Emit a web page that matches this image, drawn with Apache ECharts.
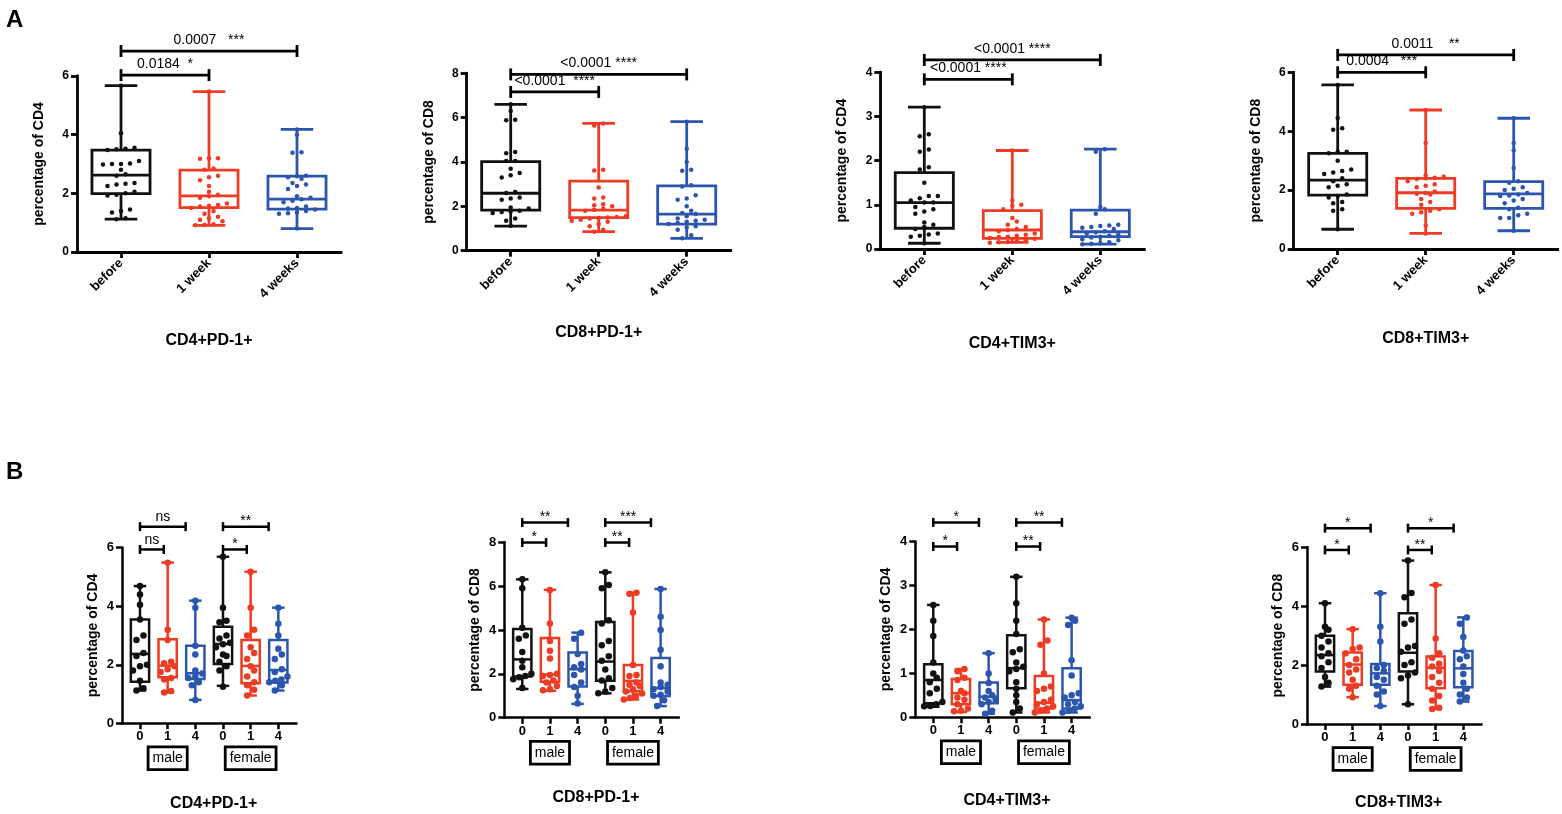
<!DOCTYPE html>
<html><head><meta charset="utf-8">
<script src="https://cdn.jsdelivr.net/npm/echarts@6/dist/echarts.min.js"></script>
<style>html,body{margin:0;padding:0;background:#fff}#c{width:1562px;height:814px}</style>
</head><body><div id="c"></div>
<script>
// ---------- data ----------
const catsA = ['before', '1 week', '4 weeks'];
const catsB = ['0', '1', '4', '0', '1', '4'];
const sexGroups = ['male', 'female'];
const titles = ['CD4+PD-1+', 'CD8+PD-1+', 'CD4+TIM3+', 'CD8+TIM3+'];
const yNames = ['percentage of CD4', 'percentage of CD8', 'percentage of CD4', 'percentage of CD8'];
const yMax = [6, 8, 4, 6];
const yStep = [2, 2, 1, 2];

// box stats: [min, Q1, median, Q3, max]
const boxA1 = [[1.12,1.99,2.62,3.47,5.67],[0.91,1.51,1.91,2.79,5.47],[0.80,1.46,1.80,2.59,4.18]];
const boxA2 = [[1.11,1.83,2.59,4.02,6.60],[0.86,1.49,1.83,3.14,5.74],[0.56,1.20,1.65,2.92,5.82]];
const boxA3 = [[0.13,0.47,1.05,1.73,3.21],[0.15,0.24,0.43,0.87,2.23],[0.11,0.28,0.39,0.88,2.26]];
const boxA4 = [[0.67,1.83,2.34,3.25,5.57],[0.53,1.38,1.91,2.40,4.72],[0.62,1.38,1.87,2.29,4.44]];

const boxB1 = [[1.12,1.42,2.37,3.55,4.69],[1.05,1.57,1.97,2.87,5.49],[0.80,1.51,1.71,2.65,4.19],[1.28,2.03,2.71,3.30,5.69],[0.95,1.37,1.96,2.85,5.18],[1.12,1.39,1.82,2.85,3.95]];
const boxB2 = [[1.31,1.88,2.66,4.05,6.31],[1.23,1.64,1.97,3.64,5.83],[0.63,1.42,2.21,2.97,3.88],[1.11,1.68,2.56,4.36,6.63],[0.83,1.21,1.68,2.40,5.70],[0.53,0.99,1.35,2.72,5.87]];
const boxB3 = [[0.24,0.32,0.85,1.21,2.56],[0.12,0.30,0.55,0.87,1.10],[0.08,0.32,0.47,0.79,1.46],[0.11,0.66,1.12,1.87,3.20],[0.11,0.20,0.33,0.94,2.23],[0.11,0.20,0.39,1.12,2.27]];
const boxB4 = [[1.27,1.78,2.34,3.00,4.10],[0.91,1.33,2.02,2.43,3.22],[0.61,1.33,1.72,2.04,4.44],[0.67,1.78,2.42,3.76,5.55],[0.51,1.21,1.91,2.29,4.72],[0.76,1.25,1.89,2.48,3.62]];

// individual points
const ptsA1 = [
  [5.67,4.05,3.55,3.52,3.50,3.48,3.10,3.02,3.00,3.00,2.98,2.80,2.65,2.60,2.35,2.33,2.30,2.25,2.05,2.00,1.95,1.93,1.45,1.40,1.35,1.15,1.12],
  [5.47,3.20,3.20,3.18,2.85,2.80,2.60,2.55,2.45,2.25,2.05,1.95,1.90,1.85,1.65,1.60,1.58,1.55,1.50,1.40,1.30,1.20,1.15,1.10,1.05,0.95,0.92,0.91],
  [4.18,4.00,3.40,3.38,2.60,2.58,2.55,2.50,2.35,2.30,2.25,2.15,1.90,1.85,1.80,1.75,1.70,1.55,1.50,1.48,1.45,1.40,1.35,1.32,1.30,0.80]
];
const ptsA2 = [
  [6.60,6.30,5.90,5.88,4.45,4.40,4.05,4.05,3.70,3.50,3.40,3.30,2.65,2.60,2.40,2.35,2.30,1.95,1.90,1.80,1.78,1.75,1.70,1.45,1.35,1.12],
  [5.74,5.65,3.65,3.62,2.85,2.40,2.35,2.10,2.05,2.00,1.90,1.85,1.80,1.55,1.52,1.50,1.48,1.45,1.40,1.35,1.30,1.20,1.10,0.95,0.86],
  [5.82,4.60,4.00,3.65,3.60,2.95,2.90,2.50,2.35,2.30,2.00,1.80,1.70,1.65,1.55,1.45,1.40,1.35,1.30,1.25,1.20,1.10,1.05,0.95,0.70,0.56]
];
const ptsA3 = [
  [3.21,2.60,2.55,2.25,2.20,1.85,1.80,1.50,1.20,1.20,1.15,1.10,1.05,1.05,0.95,0.90,0.85,0.80,0.60,0.55,0.50,0.45,0.35,0.33,0.30,0.28,0.13],
  [2.23,1.10,1.00,0.98,0.90,0.70,0.62,0.55,0.50,0.45,0.43,0.40,0.35,0.32,0.30,0.28,0.27,0.25,0.23,0.20,0.18,0.16,0.15,0.14],
  [2.26,2.20,0.95,0.90,0.80,0.55,0.53,0.52,0.50,0.48,0.45,0.40,0.38,0.35,0.32,0.30,0.28,0.26,0.22,0.20,0.15,0.13,0.12,0.11]
];
const ptsA4 = [
  [5.57,4.45,4.10,4.05,3.30,3.30,3.25,3.00,2.70,2.65,2.60,2.55,2.40,2.30,2.20,2.15,2.10,1.85,1.80,1.75,1.60,1.55,1.35,1.30,0.67],
  [4.72,3.60,2.50,2.45,2.42,2.40,2.38,2.30,2.20,2.15,2.10,1.95,1.90,1.88,1.85,1.70,1.60,1.50,1.35,1.30,1.25,1.20,0.80,0.53],
  [4.44,3.60,3.35,2.75,2.30,2.25,2.10,2.05,2.00,1.90,1.85,1.82,1.80,1.70,1.65,1.55,1.40,1.35,1.20,1.15,1.05,1.05,0.62]
];
const ptsB1 = [
  [4.69,4.40,4.05,3.55,3.00,2.85,2.40,2.30,2.00,1.95,1.80,1.45,1.20,1.12],
  [5.49,3.20,2.85,2.10,2.05,1.95,1.85,1.75,1.55,1.50,1.10,1.05],
  [4.19,3.95,2.65,2.35,1.80,1.70,1.60,1.55,1.40,1.30,0.80],
  [5.69,3.95,3.50,3.45,3.00,2.90,2.75,2.70,2.60,2.35,2.30,2.10,1.95,1.80,1.25],
  [5.18,3.95,3.20,3.00,2.60,2.40,2.20,1.95,1.80,1.60,1.40,1.30,1.15,0.95],
  [3.95,3.40,3.00,2.55,2.35,2.20,1.85,1.75,1.60,1.50,1.45,1.40,1.30,1.12]
];
const ptsB2 = [
  [6.31,5.90,4.10,3.75,3.60,3.00,2.60,2.30,2.00,1.90,1.85,1.75,1.35],
  [5.83,4.30,3.50,3.05,2.70,2.00,1.95,1.90,1.70,1.60,1.45,1.30,1.25],
  [3.88,3.60,2.90,2.45,2.30,2.20,1.95,1.60,1.40,1.00,0.65],
  [6.63,6.05,5.90,4.45,4.30,3.50,3.30,2.80,2.60,2.20,1.80,1.70,1.35,1.20,1.12],
  [5.70,5.65,4.80,2.40,1.95,1.90,1.60,1.50,1.45,1.30,1.20,1.10,1.00,0.90,0.83],
  [5.87,4.60,4.00,3.10,2.35,1.60,1.50,1.40,1.30,1.20,1.05,1.00,0.80,0.53]
];
const ptsB3 = [
  [2.56,2.20,1.85,1.25,1.00,0.90,0.80,0.65,0.55,0.35,0.30,0.26,0.25],
  [1.10,1.05,0.90,0.85,0.60,0.55,0.45,0.40,0.30,0.20,0.15,0.14],
  [1.46,1.00,0.78,0.60,0.50,0.45,0.40,0.35,0.30,0.15,0.08],
  [3.20,2.60,2.20,1.90,1.55,1.48,1.25,1.15,1.10,1.05,0.80,0.65,0.50,0.35,0.20,0.11],
  [2.23,1.75,1.65,1.00,0.70,0.65,0.60,0.40,0.35,0.30,0.25,0.20,0.15,0.11],
  [2.27,2.20,2.10,1.30,0.95,0.55,0.50,0.45,0.35,0.30,0.25,0.20,0.15,0.11]
];
const ptsB4 = [
  [4.10,3.30,3.20,3.00,2.80,2.60,2.40,2.30,2.10,1.90,1.60,1.40,1.27],
  [3.22,2.60,2.55,2.40,2.20,2.00,1.85,1.75,1.50,1.30,1.20,0.91],
  [4.44,3.30,2.80,2.00,1.90,1.80,1.60,1.50,1.30,1.10,1.00,0.61],
  [5.55,4.45,4.30,3.55,3.40,2.65,2.60,2.45,2.10,2.00,1.75,1.65,1.55,0.67],
  [4.72,2.90,2.40,2.25,2.05,1.95,1.80,1.60,1.40,1.20,0.95,0.80,0.55,0.51],
  [3.62,3.40,2.95,2.50,2.30,2.20,1.95,1.70,1.40,1.20,1.00,0.90,0.76]
];

// significance tests: [from group, to group, label]
const testsA1 = [[0, 1, '0.0184  *'], [0, 2, '0.0007   ***']];
const testsA2 = [[0, 1, '<0.0001  ****'], [0, 2, '<0.0001 ****']];
const testsA3 = [[0, 1, '<0.0001 ****'], [0, 2, '<0.0001 ****']];
const testsA4 = [[0, 1, '0.0004   ***'], [0, 2, '0.0011    **']];
const testsB1 = [[0, 1, 'ns'], [0, 2, 'ns'], [3, 4, '*'], [3, 5, '**']];
const testsB2 = [[0, 1, '*'], [0, 2, '**'], [3, 4, '**'], [3, 5, '***']];
const testsB3 = [[0, 1, '*'], [0, 2, '*'], [3, 4, '**'], [3, 5, '**']];
const testsB4 = [[0, 1, '*'], [0, 2, '*'], [3, 4, '**'], [3, 5, '*']];

// ---------- layout & style ----------
const FONT = 'Liberation Sans, Arial, Helvetica, sans-serif';
const COLORS = ['#111111', '#ee3b24', '#2c56ad'];
const panels = [
  {row:'A', i:0, box:boxA1, pts:ptsA1, tests:testsA1, left:77,    top:76,   h:176,   levels:[6.03,6.85], titleGap:81},
  {row:'A', i:1, box:boxA2, pts:ptsA2, tests:testsA2, left:466.7, top:73.3, h:177.4, levels:[7.16,7.95], titleGap:74},
  {row:'A', i:2, box:boxA3, pts:ptsA3, tests:testsA3, left:880.3, top:72.3, h:176.7, levels:[3.84,4.28], titleGap:87},
  {row:'A', i:3, box:boxA4, pts:ptsA4, tests:testsA4, left:1293.7,top:72.3, h:176.7, levels:[6.00,6.59], titleGap:82},
  {row:'B', i:0, box:boxB1, pts:ptsB1, tests:testsB1, left:122,   top:547.7,h:175.6, levels:[5.94,6.72], titleGap:72},
  {row:'B', i:1, box:boxB2, pts:ptsB2, tests:testsB2, left:504.3, top:542.3,h:175.4, levels:[7.99,8.90], titleGap:72},
  {row:'B', i:2, box:boxB3, pts:ptsB3, tests:testsB3, left:915.3, top:541.7,h:175.6, levels:[3.89,4.44], titleGap:75},
  {row:'B', i:3, box:boxB4, pts:ptsB4, tests:testsB4, left:1307,  top:547.3,h:176.7, levels:[5.91,6.65], titleGap:71}
];
const ROW = {
  A: {cats: catsA, xmin:-0.5, xmax:2.5, width:264, boxW:0.66, capW:0.37, dot:4.5, step:9, lw:2.8,
      brCap:6, brShort:[0,0], nameGap:31, labFont:12, xFont:13, rotate:45, pFont:14},
  B: {cats: catsB, xmin:-0.65, xmax:5.65, width:174.3, boxW:0.66, capW:0.45, dot:6.5, step:7, lw:2.5,
      brCap:4.5, brShort:[0.14,0.35], nameGap:22, labFont:13, xFont:13, rotate:0, pFont:14}
};

function swarm(vals, center, unitPx, catPx, dot, stepPx, maxHalf) {
  const s = vals.slice().sort((a, b) => a - b);
  const out = [];
  let i = 0;
  while (i < s.length) {
    let j = i;
    while (j + 1 < s.length && (s[j + 1] - s[i]) * unitPx < dot) j++;
    const k = j - i + 1;
    let step = stepPx / catPx;
    if (k > 1 && (k - 1) / 2 * step > maxHalf) step = maxHalf * 2 / (k - 1);
    for (let m = 0; m < k; m++) out.push([center + (m - (k - 1) / 2) * step, s[i + m]]);
    i = j + 1;
  }
  return out;
}

const grids = [], xAxes = [], yAxes = [], series = [];
panels.forEach((p, gi) => {
  const R = ROW[p.row];
  const ncat = R.cats.length;
  grids.push({left: p.left, top: p.top, width: R.width, height: p.h, containLabel: false});
  const ticks = Array.from({length: ncat}, (_, k) => k);
  xAxes.push({
    gridIndex: gi, type: 'value', min: R.xmin, max: R.xmax,
    axisLine: {show: true, onZero: false, lineStyle: {color: '#000', width: R.lw, cap: 'square'}},
    axisTick: {show: true, customValues: ticks, length: 6, lineStyle: {color: '#000', width: R.lw}},
    axisLabel: {show: true, customValues: ticks, formatter: v => R.cats[Math.round(v)], rotate: R.rotate,
      fontWeight: 'bold', fontSize: R.xFont, color: '#000', fontFamily: FONT, margin: R.rotate ? 9 : 7},
    splitLine: {show: false},
    name: titles[p.i], nameLocation: 'middle', nameGap: p.titleGap,
    nameTextStyle: {fontWeight: 'bold', fontSize: 16, color: '#000', fontFamily: FONT,
      padding: p.row === 'B' ? [0, 0, 0, 9] : 0}
  });
  yAxes.push({
    gridIndex: gi, type: 'value', min: 0, max: yMax[p.i], interval: yStep[p.i],
    axisLine: {show: true, onZero: false, lineStyle: {color: '#000', width: R.lw, cap: 'square'}},
    axisTick: {show: true, length: 6, lineStyle: {color: '#000', width: R.lw}},
    axisLabel: {fontWeight: 'bold', fontSize: R.labFont, color: '#000', fontFamily: FONT, margin: 8},
    splitLine: {show: false},
    name: yNames[p.i], nameLocation: 'middle', nameGap: R.nameGap, nameRotate: 90,
    nameTextStyle: {fontWeight: 'bold', fontSize: 14, color: '#000', fontFamily: FONT}
  });

  // boxes
  series.push({
    type: 'custom', xAxisIndex: gi, yAxisIndex: gi, clip: false, z: 3, silent: true,
    data: p.box.map((b, k) => [k].concat(b)),
    renderItem: function (params, api) {
      const x = api.value(0);
      const col = COLORS[x % 3];
      const bw = api.size([R.boxW, 0])[0], cw = api.size([R.capW, 0])[0];
      const c = api.coord([x, 0])[0];
      const yv = [1, 2, 3, 4, 5].map(d => api.coord([x, api.value(d)])[1]);
      const st = {stroke: col, lineWidth: R.lw, fill: null, lineCap: 'butt'};
      const line = (x1, y1, x2, y2) => ({type: 'line', shape: {x1, y1, x2, y2}, style: st});
      return {type: 'group', children: [
        {type: 'rect', shape: {x: c - bw / 2, y: yv[3], width: bw, height: yv[1] - yv[3]}, style: st},
        line(c - bw / 2, yv[2], c + bw / 2, yv[2]),
        line(c, yv[3], c, yv[4]),
        line(c, yv[1], c, yv[0]),
        line(c - cw / 2, yv[4], c + cw / 2, yv[4]),
        line(c - cw / 2, yv[0], c + cw / 2, yv[0])
      ]};
    }
  });

  // points
  const unitPx = p.h / yMax[p.i];
  const catPx = R.width / (R.xmax - R.xmin);
  p.pts.forEach((vals, k) => {
    series.push({
      type: 'scatter', xAxisIndex: gi, yAxisIndex: gi, z: 5, silent: true,
      symbol: 'circle', symbolSize: R.dot,
      itemStyle: {color: COLORS[k % 3], opacity: 1},
      data: swarm(vals, k, unitPx, catPx, R.dot, R.step, R.boxW * 0.5)
    });
  });

  // brackets
  series.push({
    type: 'custom', xAxisIndex: gi, yAxisIndex: gi, clip: false, z: 4, silent: true,
    data: p.tests.map((t, k) => [t[0], t[1] - (t[1] - t[0] === 1 ? R.brShort[0] : R.brShort[1]), p.levels[k % 2]]),
    renderItem: function (params, api) {
      const a = api.coord([api.value(0), api.value(2)]);
      const b = api.coord([api.value(1), api.value(2)]);
      const st = {stroke: '#000', lineWidth: R.lw};
      const label = p.tests[params.dataIndex][2];
      const isNs = label === 'ns';
      return {type: 'group', children: [
        {type: 'line', shape: {x1: a[0], y1: a[1], x2: b[0], y2: b[1]}, style: st},
        {type: 'line', shape: {x1: a[0], y1: a[1] - R.brCap, x2: a[0], y2: a[1] + R.brCap}, style: st},
        {type: 'line', shape: {x1: b[0], y1: b[1] - R.brCap, x2: b[0], y2: b[1] + R.brCap}, style: st},
        {type: 'text', x: (a[0] + b[0]) / 2, y: a[1] - (p.row === 'A' ? 4 : (isNs ? 2 : -2)),
          style: {text: label, fill: '#000', font: R.pFont + 'px ' + FONT, align: 'center', verticalAlign: 'bottom'}}
      ]};
    }
  });

  // male / female group boxes (row B)
  if (p.row === 'B') {
    series.push({
      type: 'custom', xAxisIndex: gi, yAxisIndex: gi, clip: false, z: 4, silent: true,
      data: sexGroups.map((g, k) => [1 + 3 * k, 0]),
      renderItem: function (params, api) {
        const pt = api.coord([api.value(0), api.value(1)]);
        return {type: 'text', x: pt[0], y: pt[1] + 25,
          style: {text: sexGroups[params.dataIndex], fill: '#000', font: '14px ' + FONT,
            align: 'center', verticalAlign: 'top', padding: [3, 3, 3, 3],
            borderColor: '#000', borderWidth: 2.8, backgroundColor: '#fff'}};
      }
    });
  }
});

const chart = echarts.init(document.getElementById('c'), null, {renderer: 'canvas'});
chart.setOption({
  backgroundColor: '#fff',
  animation: false,
  textStyle: {fontFamily: FONT},
  title: [
    {text: 'A', left: 1, top: 3, textStyle: {fontSize: 24, fontWeight: 'bold', color: '#000', fontFamily: FONT}},
    {text: 'B', left: 1, top: 455, textStyle: {fontSize: 24, fontWeight: 'bold', color: '#000', fontFamily: FONT}}
  ],
  grid: grids, xAxis: xAxes, yAxis: yAxes, series: series
});
</script></body></html>
